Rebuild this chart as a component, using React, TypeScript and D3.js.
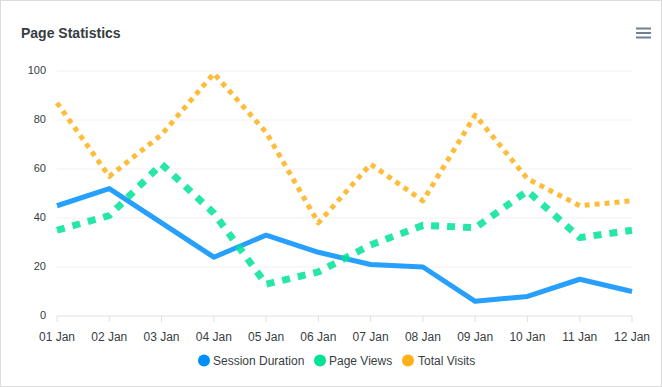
import React from "react";
import * as d3 from "d3";

const categories = ["01 Jan", "02 Jan", "03 Jan", "04 Jan", "05 Jan", "06 Jan", "07 Jan", "08 Jan", "09 Jan", "10 Jan", "11 Jan", "12 Jan"];
const sessionDuration = [45, 52, 38, 24, 33, 26, 21, 20, 6, 8, 15, 10];
const pageViews = [35, 41, 62, 42, 13, 18, 29, 37, 36, 51, 32, 35];
const totalVisits = [87, 57, 74, 99, 75, 38, 62, 47, 82, 56, 45, 47];
const yTicks = [0, 20, 40, 60, 80, 100];
const seriesNames = ["Session Duration", "Page Views", "Total Visits"];

const W = 662;
const H = 387;
const FONT = "'Liberation Sans', Helvetica, Arial, sans-serif";

export default function App() {
  const x = d3.scalePoint<string>().domain(categories).range([57, 632]);
  const y = d3.scaleLinear().domain([0, 100]).range([316, 71]);

  const series = [
    { name: seriesNames[0], data: sessionDuration, color: "#008FFB", width: 5, dash: "0" },
    { name: seriesNames[1], data: pageViews, color: "#00E396", width: 7, dash: "8" },
    { name: seriesNames[2], data: totalVisits, color: "#FEB019", width: 5, dash: "5" },
  ];

  const line = d3
    .line<number>()
    .x((_, i) => x(categories[i]) as number)
    .y((d) => y(d));

  const legendItems = [
    { cx: 204, tx: 213 },
    { cx: 320, tx: 329 },
    { cx: 408, tx: 418 },
  ];

  return (
    <div style={{ position: "fixed", left: 0, top: 0 }}>
      <svg width={W} height={H} style={{ display: "block", fontFamily: FONT }}>
        <rect x={0.5} y={0.5} width={W - 1} height={H - 1} fill="#fff" stroke="#dcdcdc" />
        <text x={21} y={38} fontSize={14} fontWeight="bold" fill="#373d3f">
          Page Statistics
        </text>
        {[28.5, 33, 37.5].map((yy, i) => (
          <line key={i} x1={636} x2={651} y1={yy} y2={yy} stroke="#6E8192" strokeWidth={2} />
        ))}
        {yTicks.map((t) => (
          <g key={t}>
            {t !== 0 && (
              <line x1={57} x2={632} y1={y(t)} y2={y(t)} stroke="#f1f1f1" strokeWidth={1} />
            )}
            <text x={46} y={y(t) + 3} fontSize={11} textAnchor="end" fill="#373d3f">
              {t}
            </text>
          </g>
        ))}
        <line x1={57} x2={632} y1={316} y2={316} stroke="#e0e0e0" strokeWidth={1} />
        {categories.map((c) => (
          <g key={c}>
            <line x1={x(c)} x2={x(c)} y1={316} y2={322} stroke="#e0e0e0" strokeWidth={1} />
            <text x={x(c)} y={341} fontSize={12} textAnchor="middle" fill="#373d3f">
              {c}
            </text>
          </g>
        ))}
        {series.map((s) => (
          <path
            key={s.name}
            d={line(s.data) as string}
            fill="none"
            stroke={s.color}
            strokeOpacity={0.85}
            strokeWidth={s.width}
            strokeDasharray={s.dash}
            strokeLinecap="butt"
            strokeLinejoin="round"
          />
        ))}
        {series.map((s, i) => (
          <g key={s.name}>
            <circle cx={legendItems[i].cx} cy={360.5} r={6} fill={s.color} />
            <text x={legendItems[i].tx} y={365} fontSize={12} fill="#373d3f">
              {s.name}
            </text>
          </g>
        ))}
      </svg>
    </div>
  );
}
